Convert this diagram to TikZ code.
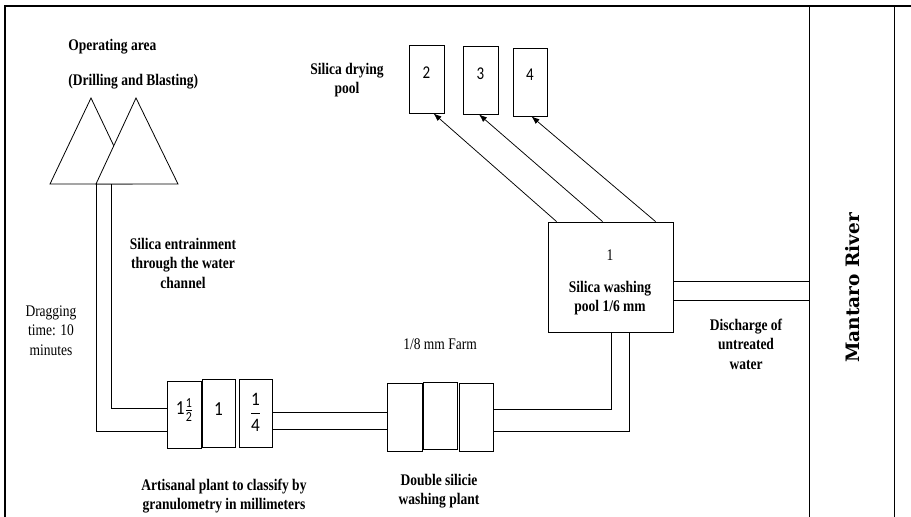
\documentclass[tikz,border=0pt]{standalone}
\usepackage{fontspec}
\setmainfont{Liberation Serif}
\newfontfamily\carlito{Carlito}
\newfontfamily\dvserif{DejaVu Serif}
\usepackage{graphicx}
\usepackage{amsmath}
\usetikzlibrary{arrows.meta,calc}
\newcommand\vst[1]{\scalebox{1}[1.2]{\begin{tabular}{@{}c@{}}#1\end{tabular}}}
\newcommand\cn[1]{\text{\carlito #1}}
\begin{document}
\begin{tikzpicture}[x=1pt,y=-1pt, line width=0.8pt,
  box/.style={draw, inner sep=0pt, fill=white},
  lbl/.style={inner sep=0pt, font=\bfseries\fontsize{13.5}{16}\selectfont},
  reg/.style={inner sep=0pt, font=\fontsize{13.5}{16}\selectfont},
  arr/.style={-{Latex[length=8pt,width=6pt]}, line width=0.75pt},
  num/.style={inner sep=0pt, font=\fontsize{17.28}{20}\selectfont},
  dig/.style={inner sep=0pt, font=\carlito\fontsize{15}{18}\selectfont},
]
\useasboundingbox (0,0) rectangle (911,517);
% frame
\draw[line width=2pt] (4,6) -- (911,6);
\draw[line width=1.3pt] (5,5) -- (5,517);
\draw (809,6) -- (809,517);
\draw (894,6) -- (894,517);
% helper coordinates
\coordinate (y408) at (0,408);
\coordinate (y431) at (0,431);
\coordinate (y412) at (0,412);
\coordinate (y429) at (0,429);
\coordinate (y409) at (0,409);
\coordinate (y281) at (0,281);
\coordinate (y300) at (0,300);
\coordinate (x611) at (611,0);
\coordinate (x629) at (629,0);
\coordinate (riv) at (809,0);
% triangles
\draw[fill=white] (50,184) -- (91,98) -- (132,184) -- cycle;
\draw[fill=white] (96,184) -- (136,98) -- (178,184) -- cycle;
\coordinate (cA) at (96,184);
\coordinate (cB) at (111,184);
% plant boxes
\node[box, minimum width=34, minimum height=67] (p1) at (184,414.5) {};
\node[box, minimum width=33, minimum height=68] (p2) at (218.5,413) {};
\node[box, minimum width=33, minimum height=68] (p3) at (255.5,413) {};
\node[num] (p1t) at (184.5,410) {\scalebox{1}[1.15]{$\cn{1}\frac{\cn{1}}{\cn{2}}$}};
\node[num] (p2t) at (218.5,409) {\scalebox{1}[1.15]{$\cn{1}$}};
\node[num] (p3t) at (255.5,412) {\scalebox{1}[1.1]{$\dfrac{\cn{1}}{\cn{4}}$}};
% double washing plant
\node[box, minimum width=35, minimum height=68] (d1) at (404.5,417) {};
\node[box, minimum width=34, minimum height=67] (d2) at (440,415.5) {};
\node[box, minimum width=34, minimum height=68] (d3) at (476,417) {};
% washing pool
\node[box, minimum width=125, minimum height=110] (w1) at (610.5,277) {};
\node[reg] (w1n) at (610,257) {\vst{1}};
\node[lbl] (w1t) at (610,298) {\vst{Silica washing\\pool 1/6 mm}};
% drying pools
\node[box, minimum width=35, minimum height=68] (b2) at (426.5,79) {};
\node[box, minimum width=35, minimum height=68] (b3) at (480.5,80) {};
\node[box, minimum width=34, minimum height=68] (b4) at (530,82) {};
\node[dig] (b2t) at (426.5,74) {\vst{2}};
\node[dig] (b3t) at (480.5,75) {\vst{3}};
\node[dig] (b4t) at (530,76) {\vst{4}};
% channels
\draw (cA) |- (p1.west |- y431);
\draw (cB) |- (p1.west |- y408);
\draw (p3.east |- y412) -- (d1.west |- y412);
\draw (p3.east |- y429) -- (d1.west |- y429);
\draw (d3.east |- y409) -| (x611 |- w1.south);
\draw (d3.east |- y431) -| (x629 |- w1.south);
\draw (w1.east |- y281) -- (riv |- y281);
\draw (w1.east |- y300) -- (riv |- y300);
% arrows
\draw[arr] ([xshift=9pt]w1.north west) -- ([xshift=7pt]b2.south);
\draw[arr] ([xshift=55pt]w1.north west) -- ([xshift=-1.5pt]b3.south);
\draw[arr] ([xshift=108pt]w1.north west) -- ([xshift=1.5pt]b4.south);
% labels
\node[lbl, anchor=west] (op) at (68,47) {\vst{Operating area}};
\node[lbl, anchor=west] (db) at (68,82) {\vst{(Drilling and Blasting)}};
\node[lbl] (sd) at (347,80) {\vst{Silica drying\\pool}};
\node[lbl] (se) at (183,265) {\vst{Silica entrainment\\through the water\\channel}};
\node[reg] (dt) at (51,332) {\vst{Dragging\\time: 10\\minutes}};
\node[lbl] (ap) at (224,496) {\vst{Artisanal plant to classify by\\granulometry in millimeters}};
\node[lbl] (dw) at (439,491) {\vst{Double silicie\\washing plant}};
\node[reg] (fm) at (440,346) {\vst{1/8 mm Farm}};
\node[lbl] (dc) at (746,346) {\vst{Discharge of\\untreated\\water}};
\node[inner sep=0pt, rotate=90, font=\dvserif\bfseries\fontsize{18.5}{22}\selectfont] (mr) at (853,288) {Mantaro River};
\end{tikzpicture}
\end{document}
